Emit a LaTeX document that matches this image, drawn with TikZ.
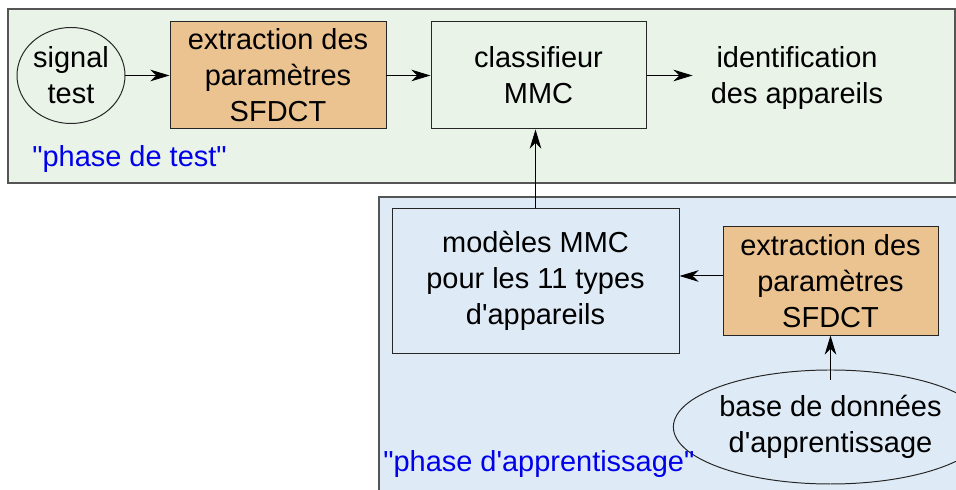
\documentclass[tikz,border=0pt]{standalone}
\usepackage{fontspec}
\setmainfont{Liberation Sans}[Ligatures=TeXOff]
\usepackage{xcolor}
\usepackage{tikz}
\usetikzlibrary{shapes.geometric, arrows.meta, positioning}
\definecolor{testgreen}{RGB}{233, 243, 232}
\definecolor{learnblue}{RGB}{222, 235, 247}
\definecolor{sfdctorange}{RGB}{235, 195, 145}
\definecolor{framegray}{RGB}{85, 85, 85}
\definecolor{phaseblue}{RGB}{0, 0, 235}

\begin{document}
\begin{tikzpicture}[
    txt/.style={font=\fontsize{20.6}{25.6}\selectfont, align=center},
    block/.style={txt, draw=black!85, line width=0.7pt, inner sep=0pt},
    source/.style={txt, ellipse, draw=black!85, line width=0.7pt, inner sep=0pt},
    phase/.style={font=\fontsize{20.6}{25.6}\selectfont, text=phaseblue, anchor=base west, inner sep=0pt},
    flow/.style={line width=0.7pt, -{Stealth[length=0.48cm, width=0.29cm, inset=0.15cm]}}
]
\clip (0,0) rectangle (23.9,12.25);

% Test phase
\draw[framegray, line width=1pt, fill=testgreen] (0.2,7.675) rectangle (23.875,12.025);
\node[source, minimum width=2.7cm, minimum height=2.4cm] (sigtest) at (1.775,10.3625) {signal\\test};
\node[block, fill=sfdctorange, minimum width=5.4cm, minimum height=2.675cm] (extrtest) at (6.95,10.3625) {extraction des\\paramètres\\SFDCT};
\node[block, fill=testgreen, minimum width=5.375cm, minimum height=2.675cm] (classif) at (13.4625,10.3625) {classifieur\\MMC};
\node[txt, inner xsep=0.45cm] (ident) at (19.925,10.3) {identification\\des appareils};
\node[phase] (testlabel) at (0.8,8.075) {"phase de test"};

\draw[flow] (sigtest.east) -- (sigtest.east -| extrtest.west);
\draw[flow] (extrtest.east) -- (extrtest.east -| classif.west);
\draw[flow] (classif.east) -- (classif.east -| ident.west);

% Learning phase
\draw[framegray, line width=1pt, fill=learnblue] (9.475,-0.5) rectangle (24.5,7.325);
\node[block, fill=learnblue, minimum width=7.175cm, minimum height=3.6cm] (models) at (13.3875,5.225) {modèles MMC\\pour les 11 types\\d'appareils};
\node[block, fill=sfdctorange, minimum width=5.375cm, minimum height=2.7cm] (extrlearn) at (20.7625,5.225) {extraction des\\paramètres\\SFDCT};
\node[source, minimum width=6.4cm, minimum height=2.85cm] (database) at (20.7625,1.575) {base de données\\d'apprentissage};
\node[phase] (learnlabel) at (9.575,0.45) {"phase d'apprentissage"};

\draw[flow] ([yshift=0.125cm]extrlearn.west) -- ([yshift=0.125cm]extrlearn.west -| models.east);
\draw[flow] ([yshift=-0.25cm]database.north) -- (extrlearn.south);
\draw[flow] (models.north) -- (models.north |- classif.south);
\end{tikzpicture}
\end{document}
